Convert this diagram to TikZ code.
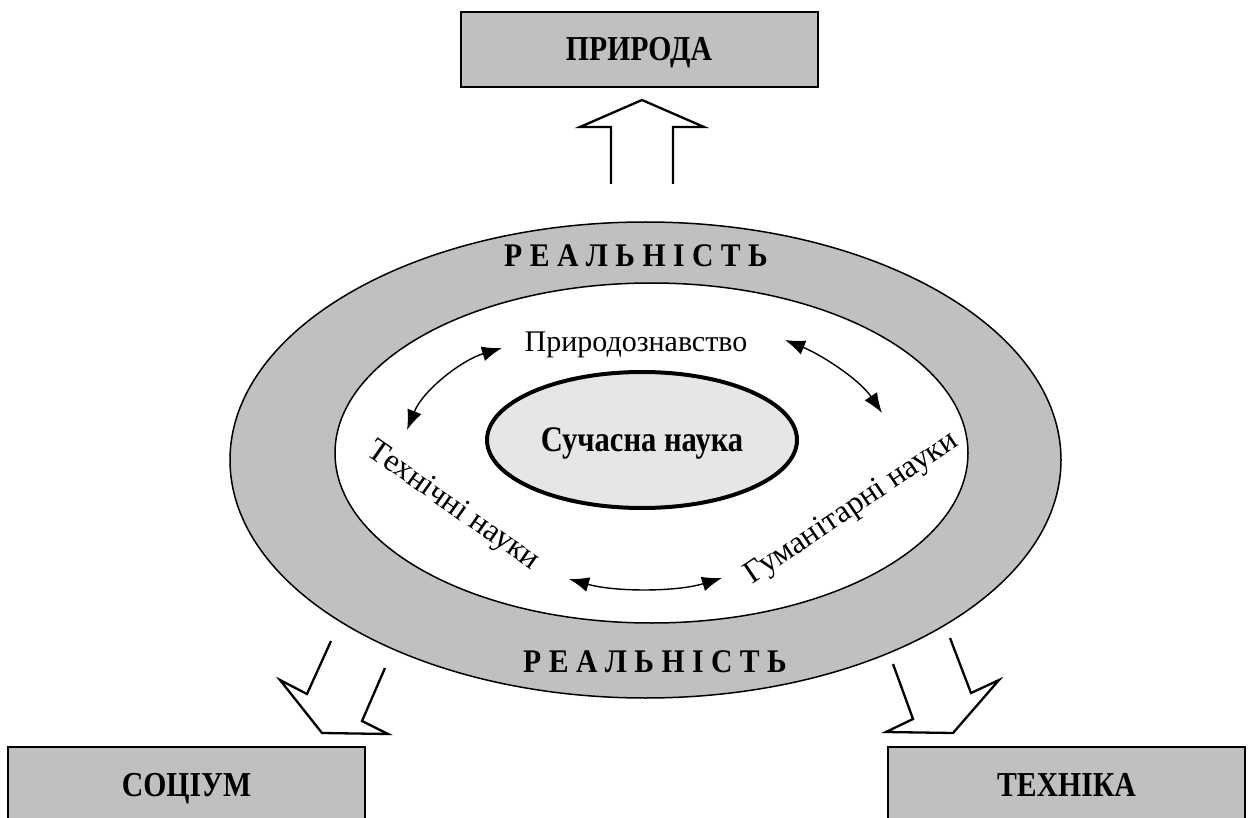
\documentclass[tikz,border=0pt]{standalone}
\usepackage{fontspec}
\setmainfont{Liberation Serif}
\newfontfamily\condserif[FakeStretch=0.85]{Liberation Serif}
\newfontfamily\realserif[FakeStretch=0.9]{Liberation Serif}
\usetikzlibrary{shapes.geometric, arrows.meta}
\definecolor{ringgray}{RGB}{192,192,192}
\definecolor{coregray}{RGB}{230,230,230}
\begin{document}
\begin{tikzpicture}[x=1pt, y=-1pt,
  box/.style={draw=black, line width=2pt, fill=ringgray, minimum width=357pt,
    minimum height=75pt, inner sep=0pt, text height=23pt, text depth=0pt,
    font=\condserif\fontsize{35}{40}\selectfont\bfseries},
  ring/.style={ellipse, draw=black, line width=1.5pt, inner sep=0pt},
  reallabel/.style={anchor=base, font=\realserif\fontsize{33}{38}\selectfont\bfseries},
  science/.style={inner sep=0pt, text height=21pt, text depth=0pt,
    font=\fontsize{32}{36}\selectfont},
  link/.style={line width=1.4pt, {Latex[length=20pt,width=15pt]}-{Latex[length=20pt,width=15pt]}},
  blockarrow/.style={draw=black, line width=2.3pt, fill=white}
]
\clip (0,0) rectangle (1251,818);
\fill[white] (0,0) rectangle (1251,818);

% outer boxes
\node[box] (nature) at (639,49.5) {ПРИРОДА};
\node[box] (society) at (186.5,784.5) {СОЦІУМ};
\node[box] (tech) at (1066.5,784.5) {ТЕХНІКА};

% reality ring, the field of sciences and the core
\node[ring, fill=ringgray, minimum width=831pt, minimum height=476pt] (outer) at (645.5,460) {};
\node[ring, fill=white, minimum width=633pt, minimum height=340pt] (inner) at (651.5,453) {};
\node[ellipse, draw=black, line width=4pt, fill=coregray, minimum width=310pt,
  minimum height=136pt, inner sep=0pt, text height=23pt, text depth=0pt,
  font=\condserif\fontsize{36}{40}\selectfont\bfseries] (core) at (642,440) {Сучасна наука};

\node[reallabel] (realtop) at (636,267) {Р Е А Л Ь Н І С Т Ь};
\node[reallabel] (realbot) at (655,672) {Р Е А Л Ь Н І С Т Ь};

% branches of science
\node[anchor=base, font=\fontsize{30}{36}\selectfont] (natsci) at (636,352) {Природознавство};
\node[science, rotate=-35] (techsci) at (455,504) {Технічні науки};
\node[science, rotate=34] (humsci) at (850,506) {Гуманітарні науки};

% two-way links between the branches
\coordinate (a1) at (502,348);
\coordinate (a2) at (407,430);
\draw[link] (a2) .. controls (423,390) and (462,360) .. (a1);
\coordinate (b1) at (785,340);
\coordinate (b2) at (882,413);
\draw[link] (b1) .. controls (822,355) and (860,380) .. (b2);
\coordinate (c1) at (569,579);
\coordinate (c2) at (722,578);
\draw[link] (c1) .. controls (615,592) and (676,592) .. (c2);

% hollow block arrows out of the reality ring
\draw[blockarrow] (611,184) -- (611,127) -- (580,127) -- (642,100) -- (704,127) -- (673,127) -- (673,184);
\draw[blockarrow] (331,641) -- (307,694) -- (280,680) -- (322,733) -- (388,734) -- (362,721) -- (385,668);
\draw[blockarrow] (893,664) -- (913,719) -- (886,732) -- (953,733) -- (999,680) -- (971,693) -- (950,638);
\end{tikzpicture}
\end{document}
